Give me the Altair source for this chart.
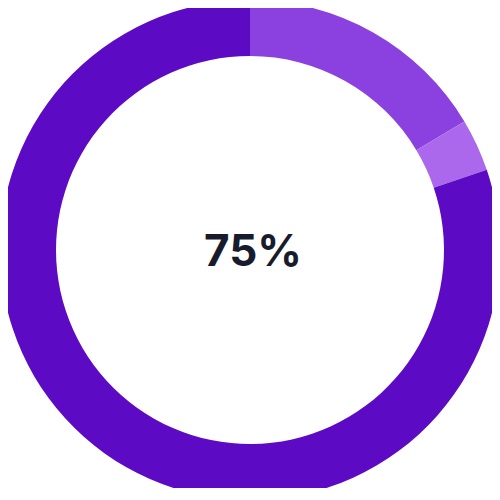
import altair as alt
import pandas as pd

segments = ["A", "B", "C"]
values = [16.4, 3.4, 80.2]
colors = ["#8b41e0", "#ac68ec", "#5c0ac4"]
label = "75%"

df = pd.DataFrame({"seg": segments, "value": values, "ord": list(range(len(segments)))})

base = alt.Chart(df)
arc = base.mark_arc(innerRadius=194, outerRadius=250, stroke=None).encode(
    theta=alt.Theta("value:Q", stack=True),
    color=alt.Color("seg:N", scale=alt.Scale(domain=segments, range=colors), legend=None),
    order=alt.Order("ord:Q"),
    x=alt.value(242),
    y=alt.value(242),
)

text = alt.Chart(pd.DataFrame({"t": [label]})).mark_text(
    font="Inter", fontWeight="bold", fontSize=44, color="#181b2c", baseline="middle", align="center"
).encode(text="t:N", x=alt.value(245), y=alt.value(245))

chart = alt.layer(arc, text).properties(
    width=484, height=480, padding=0, autosize=alt.AutoSizeParams(type="none")
).configure_view(stroke=None)

chart.save("out.html", embed_options={"renderer": "svg", "actions": False})
